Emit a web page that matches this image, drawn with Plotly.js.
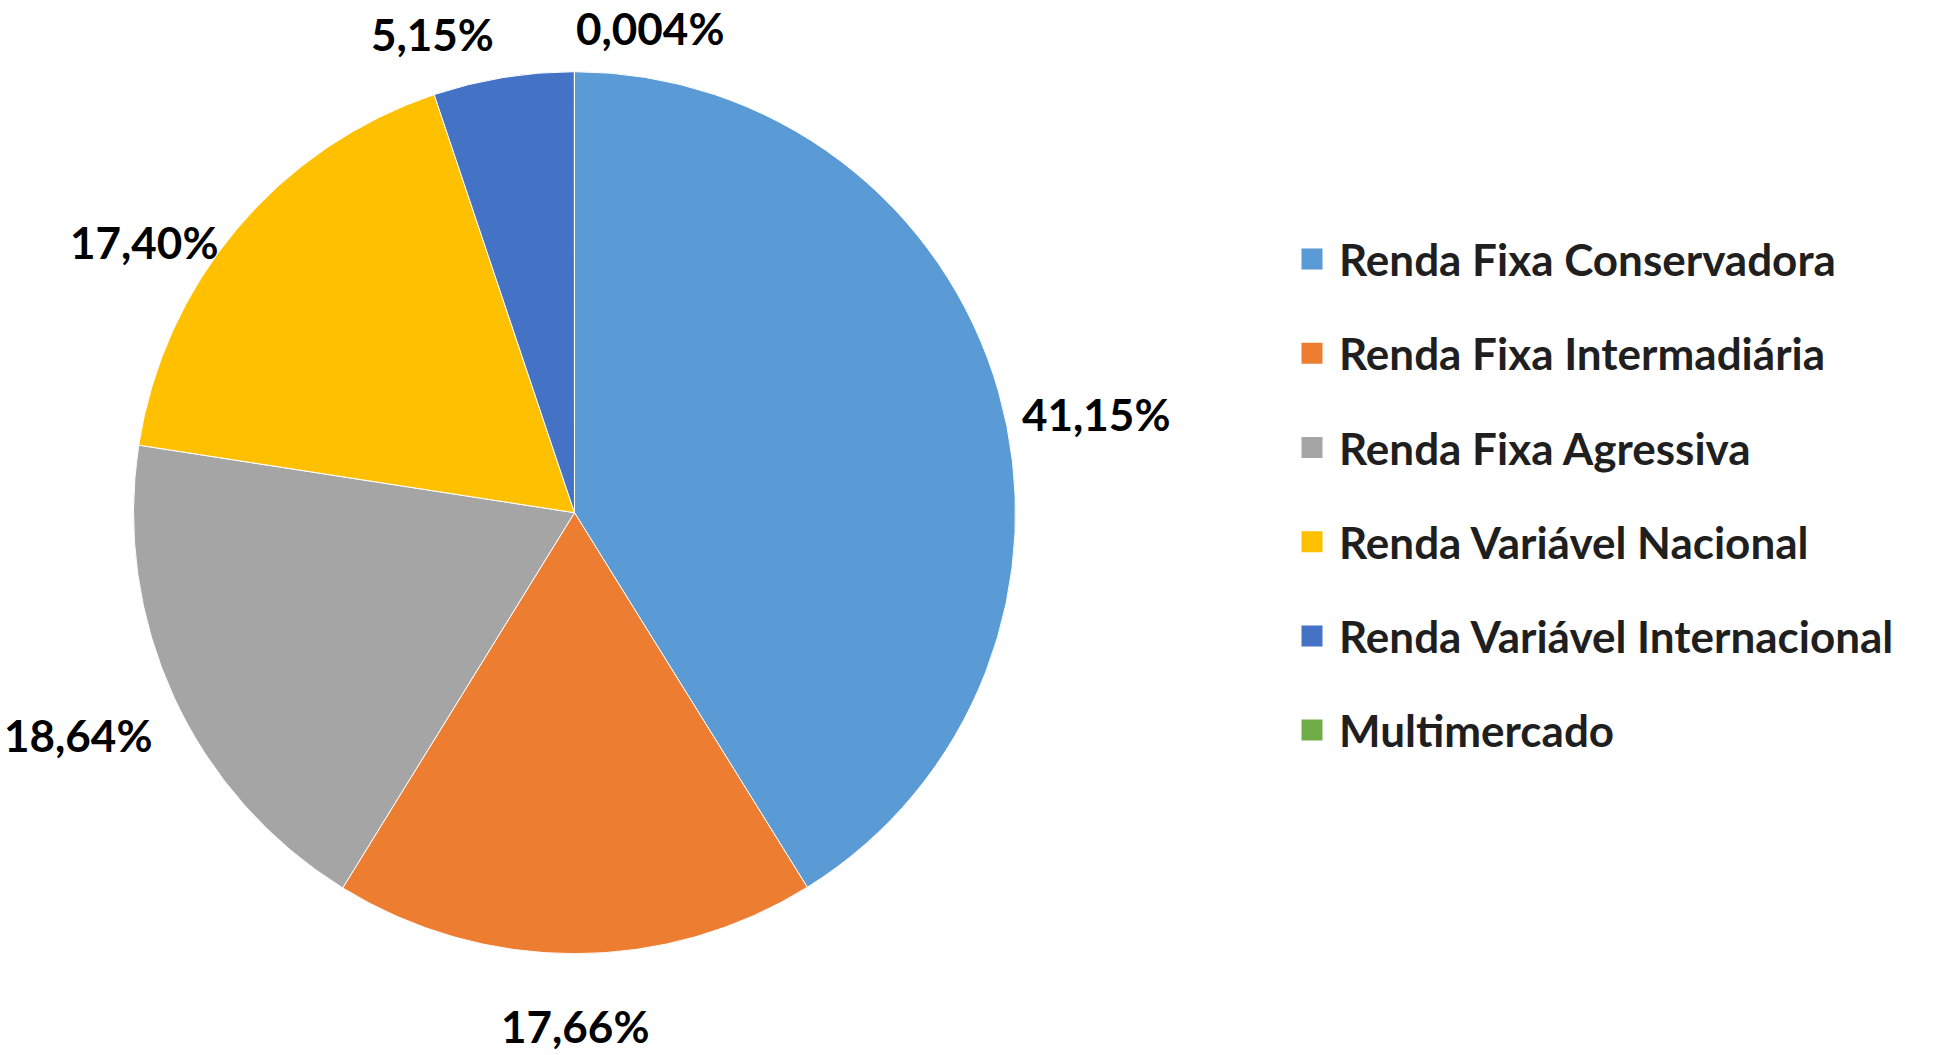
<!DOCTYPE html>
<html>
<head>
<meta charset="utf-8">
<script src="https://cdn.plot.ly/plotly-3.0.1.min.js"></script>
<style>html,body{margin:0;padding:0;background:#fff;}#chart{width:1937px;height:1055px;}</style>
</head>
<body>
<div id="chart"></div>
<script>
// ---- data ----
const categories = ['Renda Fixa Conservadora', 'Renda Fixa Intermadiária', 'Renda Fixa Agressiva',
                    'Renda Variável Nacional', 'Renda Variável Internacional', 'Multimercado'];
const values = [41.15, 17.66, 18.64, 17.40, 5.15, 0.004];
const valueLabels = ['41,15%', '17,66%', '18,64%', '17,40%', '5,15%', '0,004%'];
const colors = ['#5B9BD5', '#ED7D31', '#A5A5A5', '#FFC000', '#4472C4', '#70AD47'];

// ---- layout constants ----
const W = 1937, H = 1055;
const CX = 574.5, CY = 512.7, R = 441;
const FONT = 'Lato, "Open Sans", "DejaVu Sans", sans-serif';

const domX = [(CX - R) / W, (CX + R) / W];
const domY = [1 - (CY + R) / H, 1 - (CY - R) / H];

const traces = [{
  type: 'pie',
  labels: categories,
  values: values,
  sort: false,
  direction: 'clockwise',
  rotation: 0,
  textinfo: 'none',
  hoverinfo: 'label+percent',
  showlegend: false,
  marker: { colors: colors, line: { color: '#ffffff', width: 1 } },
  domain: { x: domX, y: domY }
}];

// legend entries (no plotted data)
categories.forEach((c, i) => {
  traces.push({
    type: 'scatter', mode: 'markers', x: [null], y: [null],
    name: c, legendgroup: 'g' + i, showlegend: true, hoverinfo: 'skip',
    marker: { symbol: 'square', size: 16, color: colors[i], line: { color: colors[i], width: 5 } }
  });
});

// labels outside each slice, placed from slice mid-angles
const total = values.reduce((a, b) => a + b, 0);
let cum = 0;
const annotations = values.map((v, i) => {
  const mid = (cum + v / 2) / total * 2 * Math.PI;
  cum += v;
  const s = Math.sin(mid), c = Math.cos(mid);
  let d = R * 1.05;
  if (c < -0.9) d = R * 1.10;
  if (c > 0.8) d = R * 1.10;
  const px = CX + d * s, py = CY - d * c;
  let xanchor = s > -0.05 ? 'left' : 'right';
  if (c < -0.9) xanchor = 'center';
  const yanchor = c > 0.8 ? 'middle' : 'top';
  return {
    xref: 'paper', yref: 'paper', x: px / W, y: 1 - py / H,
    xanchor: xanchor, yanchor: yanchor, showarrow: false,
    text: valueLabels[i],
    font: { family: FONT, size: 44, color: '#000000', weight: 'bold' }
  };
});

const layout = {
  width: W, height: H,
  margin: { l: 0, r: 0, t: 0, b: 0 },
  paper_bgcolor: '#ffffff', plot_bgcolor: '#ffffff',
  xaxis: { visible: false }, yaxis: { visible: false },
  showlegend: true,
  legend: {
    x: 1285 / W, y: 1 - 224 / H, xanchor: 'left', yanchor: 'top',
    font: { family: FONT, size: 44, color: '#1f1f1f', weight: 'bold' },
    tracegroupgap: 34, itemsizing: 'trace', itemwidth: 44, bgcolor: 'rgba(0,0,0,0)'
  },
  annotations: annotations
};

Plotly.newPlot('chart', traces, layout, { displayModeBar: false, staticPlot: true });
</script>
</body>
</html>
